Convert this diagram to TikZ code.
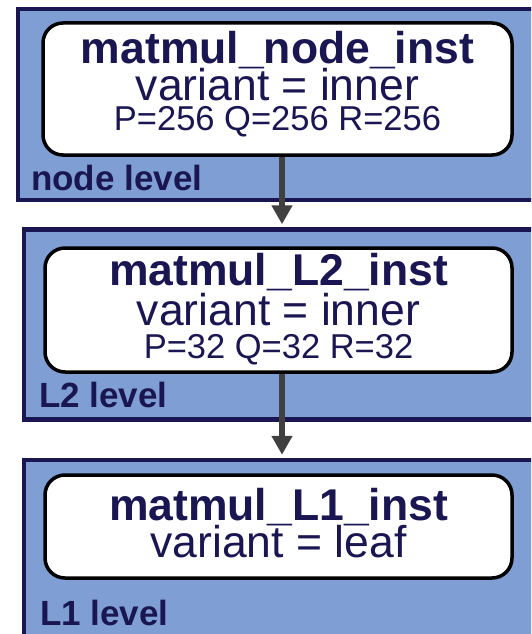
\documentclass[tikz,border=0pt]{standalone}
\usepackage{fontspec}
\setmainfont{Liberation Sans}
\usetikzlibrary{arrows.meta}
\definecolor{panelfill}{RGB}{127,158,211}
\definecolor{navy}{RGB}{26,22,82}
\definecolor{arrowgray}{RGB}{64,64,64}
\newcommand{\paramfont}{\fontsize{34.5}{34}\selectfont}
\tikzset{
  panel/.style={draw=navy, fill=panelfill, line width=4.5pt, rectangle, inner sep=0pt, minimum width=#1},
  panel/.default=516pt,
  instbox/.style={draw=black, fill=white, line width=3.5pt, rounded corners=20pt, inner sep=0pt},
  % anchored at the baseline of the last line
  boxtext/.style={anchor=base, text=navy, align=center, inner sep=0pt,
    font={\fontsize{44.5}{37}\selectfont\lineskiplimit=-40pt\lineskip=0pt}},
  levellabel/.style={anchor=base west, text=navy, font=\fontsize{35}{35}\selectfont\bfseries, inner sep=0pt},
  flow/.style={draw=arrowgray, line width=6pt, -{Triangle[length=19pt,width=20pt]}, shorten >=3pt}
}
\begin{document}
\begin{tikzpicture}[x=1pt,y=-1pt]
\useasboundingbox (0,0) rectangle (531,634);
\clip (0,0) rectangle (531,634);

% node level
\node[panel=528pt, minimum height=191pt] (p1) at (282,104.5) {};
\node[instbox, minimum width=469pt, minimum height=132pt] (b1) at (277.5,89) {};
\node[boxtext] (t1) at (277.5,130) {\textbf{matmul\_node\_inst}\\ variant = inner\\[-7pt] {\paramfont P=256 Q=256 R=256}};
\node[levellabel] (l1) at (31,190) {node level};

% L2 level
\node[panel, minimum height=190pt] (p2) at (282,324.5) {};
\node[instbox, minimum width=467pt, minimum height=124pt] (b2) at (278.5,310) {};
\node[boxtext] (t2) at (278.5,358) {\textbf{matmul\_L2\_inst}\\[3pt] variant = inner\\[-4pt] {\paramfont P=32 Q=32 R=32}};
\node[levellabel] (l2) at (39,407) {L2 level};

% L1 level
\node[panel, minimum height=202pt] (p3) at (282,561) {};
\node[instbox, minimum width=467pt, minimum height=103pt] (b3) at (278.5,526.5) {};
\node[boxtext] (t3) at (278.5,557) {\textbf{matmul\_L1\_inst}\\ variant = leaf};
\node[levellabel] (l3) at (40,625) {L1 level};

% refinement arrows
\draw[flow] (b1.south -| p2.north) -- (p2.north);
\draw[flow] (b2.south -| p3.north) -- (p3.north);
\end{tikzpicture}
\end{document}
